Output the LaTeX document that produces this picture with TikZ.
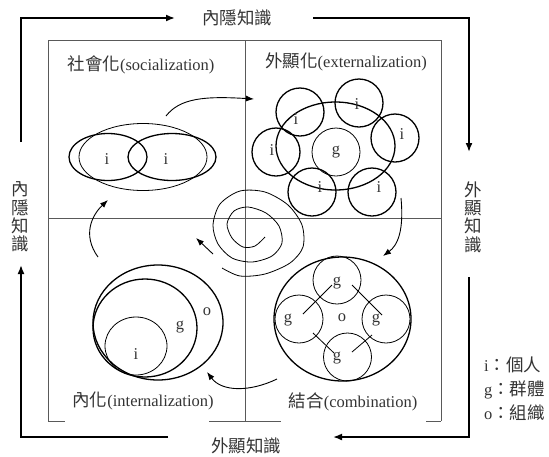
\documentclass[tikz,border=0pt]{standalone}
\usepackage{fontspec}
\setmainfont{Liberation Serif}
\newfontfamily\cjk[Scale=1.06]{Noto Sans CJK TC}
\usetikzlibrary{arrows.meta}
\begin{document}
\begin{tikzpicture}[x=1pt,y=-1pt,
  txt/.style={font=\fontsize{16.5}{19}\selectfont, text=black!80, inner sep=0pt},
  vtxt/.style={font=\fontsize{16.5}{18.3}\selectfont\cjk, text=black!80, inner sep=0pt, align=center},
  framearrow/.style={line width=1.7pt,-{Latex[length=9pt,width=7pt]}},
  curvearrow/.style={line width=0.9pt,-{Latex[length=8pt,width=6pt]}},
  boldline/.style={line width=1.3pt},
  fineline/.style={line width=0.8pt},
  boxline/.style={draw=black!65,line width=0.9pt}
]
\useasboundingbox (0,0) rectangle (549,456);

% inner box and dividers
\draw[boxline] (48,421) -- (48,40) -- (441,40) -- (441,421);
\draw[boxline] (48,421) -- (65,421);
\draw[boxline] (209,421) -- (281,421);
\draw[boxline] (426,421) -- (441,421);
\draw[boxline] (245.5,40) -- (245.5,421);
\draw[boxline] (48,218) -- (441,218);

% frame labels
\node[txt] (topL) at (237,18) {\cjk 內隱知識};
\node[txt] (botL) at (246,445.5) {\cjk 外顯知識};
\node[vtxt] (leftL) at (20,217) {內\\隱\\知\\識};
\node[vtxt] (rightL) at (473,217) {外\\顯\\知\\識};

% frame arrows
\coordinate (f1) at (21,142);
\coordinate (f2) at (21,18);
\coordinate (f3) at (175,18);
\coordinate (f4) at (313,18);
\coordinate (f5) at (469,18);
\coordinate (f6) at (469,152);
\coordinate (f7) at (469,277);
\coordinate (f8) at (469,437);
\coordinate (f9) at (333,437);
\coordinate (f10) at (168,437);
\coordinate (f11) at (21,437);
\coordinate (f12) at (21,265);
\draw[framearrow] (f1) -- (f2) -- (f3);
\draw[framearrow] (f4) -- (f5) -- (f6);
\draw[framearrow] (f7) -- (f8) -- (f9);
\draw[framearrow] (f10) -- (f11) -- (f12);

% quadrant titles
\node[txt] (soc) at (141,65) {{\cjk 社會化}(socialization)};
\node[txt] (ext) at (346,62) {{\cjk 外顯化}(externalization)};
\node[txt] (int) at (143,401) {{\cjk 內化}(internalization)};
\node[txt] (com) at (353,402) {{\cjk 結合}(combination)};

% socialization
\draw[boldline] (108,157) ellipse [x radius=39pt,y radius=23.5pt];
\draw[boldline] (172,157) ellipse [x radius=44pt,y radius=23.5pt];
\draw[fineline] (143,157) ellipse [x radius=64pt,y radius=33.5pt];
\node[txt] (s1) at (107,159) {i};
\node[txt] (s2) at (166,159) {i};

% externalization
\draw[boldline] (335.5,146) ellipse [x radius=59.5pt,y radius=44pt];
\draw[fineline] (336,152) circle [radius=24pt];
\node[txt] (eg) at (336,152) {g};
\foreach \cx/\cy/\lx/\ly/\nm in {300/112/296/119/e1, 359/103/357/104/e2, 395/138/402/134/e3, 276/152/272/150/e4, 312/192/320/187/e5, 372/192/379/187/e6}{
  \draw[boldline] (\cx,\cy) circle [radius=24pt];
  \node[txt] (\nm) at (\lx,\ly) {i};
}

% combination
\draw[boldline] (342.5,319) ellipse [x radius=68.5pt,y radius=62pt];
\draw[fineline] (337,280) circle [radius=24pt];
\draw[fineline] (299,319) circle [radius=24pt];
\draw[fineline] (386,319) circle [radius=24pt];
\draw[fineline] (347.5,357) circle [radius=24pt];
\node[txt] (cg1) at (337,283) {g};
\node[txt] (cg2) at (288,320) {g};
\node[txt] (cg3) at (376,320) {g};
\node[txt] (cg4) at (337,358) {g};
\node[txt] (co) at (342,318) {o};
\draw[fineline] (352,285) -- (382,315);
\draw[fineline] (332,285) -- (303,314);
\draw[fineline] (313,333) -- (334,353);
\draw[fineline] (372,335) -- (352,352);

% internalization
\draw[boldline] (158,322.5) ellipse [x radius=65pt,y radius=57.5pt];
\draw[boldline] (145,328) ellipse [x radius=52pt,y radius=49pt];
\draw[fineline] (136,346) ellipse [x radius=31pt,y radius=29pt];
\node[txt] (io) at (207,312) {o};
\node[txt] (ig) at (180,327) {g};
\node[txt] (ii) at (136,354) {i};

% curved arrows
\draw[curvearrow] (166,116) .. controls (180,98) and (205,96) .. (254,99);
\draw[curvearrow] (401,198) .. controls (404,230) and (398,245) .. (383,256);
\draw[curvearrow] (277,379) .. controls (250,392) and (222,392) .. (207,372);
\draw[curvearrow] (98,257) .. controls (82,235) and (92,215) .. (108,200);
\draw[curvearrow] (213,254) -- (196,238);

% spiral
\draw[fineline] plot[smooth] coordinates {(265,237) (255,246) (243,247) (232,238) (227,224) (234,211) (248,207) (266,213) (279,226) (282,243) (272,256) (252,262) (232,258) (218,244) (213,225) (220,204) (240,191) (265,192) (288,205) (302,225) (303,247) (290,263) (265,274) (240,276) (222,268)};

% legend
\node[txt,anchor=west] (lg1) at (484,365) {i{\cjk ：個人}};
\node[txt,anchor=west] (lg2) at (484,390) {g{\cjk ：群體}};
\node[txt,anchor=west] (lg3) at (484,413) {o{\cjk ：組織}};
\end{tikzpicture}
\end{document}
